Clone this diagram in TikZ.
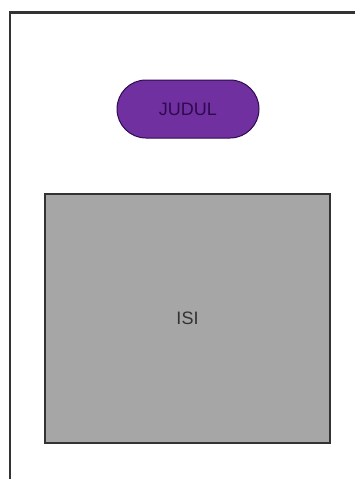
\documentclass[tikz,border=0pt]{standalone}
\usepackage{fontspec}
\setmainfont{Liberation Sans}
\usetikzlibrary{shapes.misc}
\definecolor{pillfill}{HTML}{7030A0}
\definecolor{pilltext}{HTML}{2E0A50}
\definecolor{boxfill}{HTML}{A6A6A6}
\definecolor{edge}{HTML}{333333}
\tikzset{
  frame/.style={draw=edge, line width=2.2pt},
  pill/.style={rounded rectangle, fill=pillfill, draw=pilltext, line width=1pt,
    minimum width=142pt, minimum height=58pt, inner sep=0pt,
    text=pilltext, font=\fontsize{18pt}{20pt}\selectfont},
  content/.style={rectangle, fill=boxfill, draw=edge, line width=1.8pt,
    minimum width=285pt, minimum height=249pt, inner sep=0pt,
    text=edge, font=\fontsize{18pt}{20pt}\selectfont}
}
\begin{document}
\begin{tikzpicture}[x=1pt,y=-1pt]
\useasboundingbox (0,0) rectangle (355,479);
\coordinate (tl) at (10,12.5);
\coordinate (tr) at (355,12.5);
\coordinate (bl) at (10,479);
\draw[frame] (tr) -- (tl) -- (bl);
\node[pill] (judul) at (188,109) {JUDUL};
\node[content] (isi) at (187.5,318.5) {ISI};
\end{tikzpicture}
\end{document}
